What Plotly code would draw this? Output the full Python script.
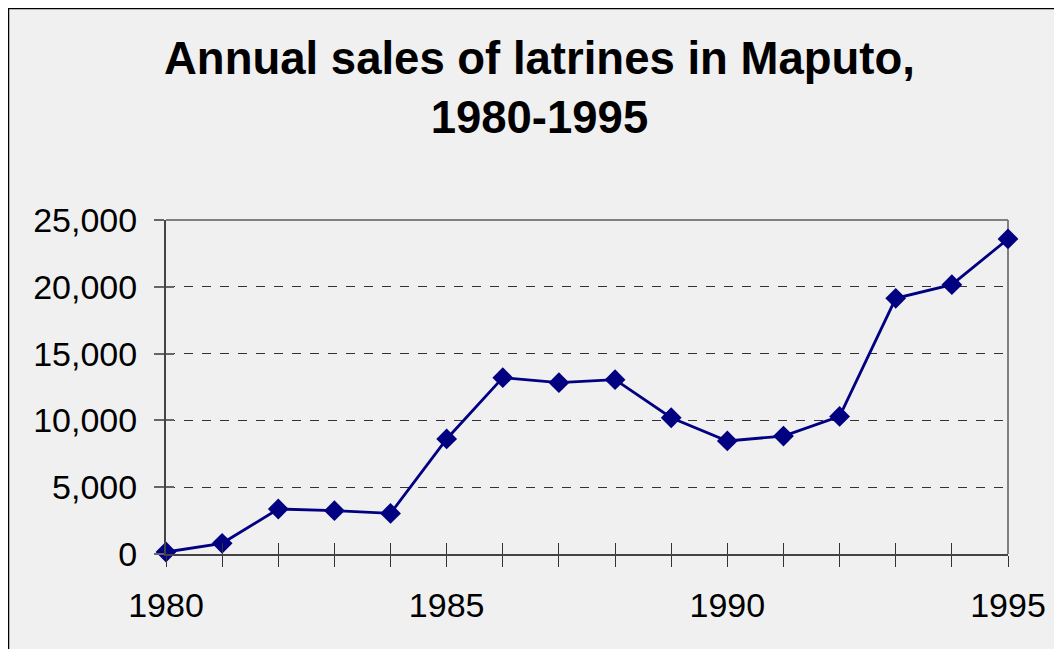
import plotly.graph_objects as go

years = list(range(1980, 1996))
sales = [150, 800, 3370, 3240, 3040, 8610, 13200, 12820, 13050, 10200,
         8460, 8830, 10300, 19140, 20160, 23580]
y_ticks = [0, 5000, 10000, 15000, 20000, 25000]
x_ticks = [1980, 1985, 1990, 1995]
title_text = "Annual sales of latrines in Maputo,<br>1980-1995"

W, H = 1062, 649
OFF = 8  # browser body margin offset
ml, mt = 166 - OFF, 220 - OFF
mr, mb = W - (1008 - OFF), H - (554 - OFF)
pw, ph = W - ml - mr, H - mt - mb


def px(fx):
    return (fx - ml) / pw


def py(fy):
    return (H - mb - fy) / ph


fig = go.Figure()
fig.add_trace(go.Scatter(
    x=years, y=sales, mode="lines+markers",
    line=dict(color="#000080", width=2.8),
    marker=dict(symbol="diamond", size=16, color="#000080"),
    showlegend=False, cliponaxis=False,
))
# invisible trace on overlay axes for the inner half of crossing ticks
fig.add_trace(go.Scatter(x=years, y=sales, xaxis="x2", yaxis="y2", mode="none",
                         showlegend=False, hoverinfo="skip"))

font = "Liberation Sans, Arial, sans-serif"
fig.update_layout(
    width=W, height=H,
    margin=dict(l=ml, r=mr, t=mt, b=mb, autoexpand=False),
    paper_bgcolor="#f0f0f0", plot_bgcolor="#f0f0f0",
    xaxis=dict(range=[1980, 1995], tickvals=x_ticks, ticks="outside",
               ticklen=11, tickwidth=1.2, tickcolor="#333",
               minor=dict(dtick=1, ticks="outside", ticklen=11, tickwidth=1.2, tickcolor="#333"),
               showgrid=False, zeroline=False,
               showline=True, linecolor="#444", linewidth=2, mirror=False,
               tickfont=dict(family=font, size=34, color="black"),
               ticklabelstandoff=9),
    xaxis2=dict(range=[1980, 1995], overlaying="x", anchor="y", side="bottom",
                dtick=1, tick0=1980, ticks="inside", ticklen=11, tickwidth=1.2,
                tickcolor="#333", showticklabels=False, showgrid=False,
                zeroline=False, showline=False),
    yaxis=dict(range=[0, 25000], tickvals=y_ticks, tickformat=",d",
               ticks="outside", ticklen=10, tickwidth=1.5, tickcolor="#666",
               showgrid=True, gridcolor="#333", griddash="dash", gridwidth=1,
               zeroline=False, showline=True, linecolor="#444", linewidth=2,
               tickfont=dict(family=font, size=34, color="black"),
               ticklabelstandoff=10),
    yaxis2=dict(range=[0, 25000], overlaying="y", anchor="x", side="left",
                tickvals=y_ticks, ticks="inside", ticklen=8, tickwidth=1.5,
                tickcolor="#666", showticklabels=False, showgrid=False,
                zeroline=False, showline=False),
    annotations=[dict(text=title_text, xref="paper", yref="paper",
                      x=px(531), y=py(80), xanchor="center", yanchor="middle",
                      showarrow=False, align="center",
                      font=dict(family=font, size=45.5, color="black", weight="bold"))],
    shapes=[
        # top and right border of plot area (grey)
        dict(type="line", xref="paper", yref="paper", x0=0, x1=1, y0=1, y1=1,
             line=dict(color="#808080", width=2), layer="above"),
        dict(type="line", xref="paper", yref="paper", x0=1, x1=1, y0=0, y1=1,
             line=dict(color="#808080", width=2), layer="below"),
        # outer chart border
        dict(type="rect", xref="paper", yref="paper",
             x0=px(0.5), x1=px(1050), y0=py(646), y1=py(0.5),
             line=dict(color="black", width=1.5), layer="below"),
    ],
)

fig.write_html("out.html")
